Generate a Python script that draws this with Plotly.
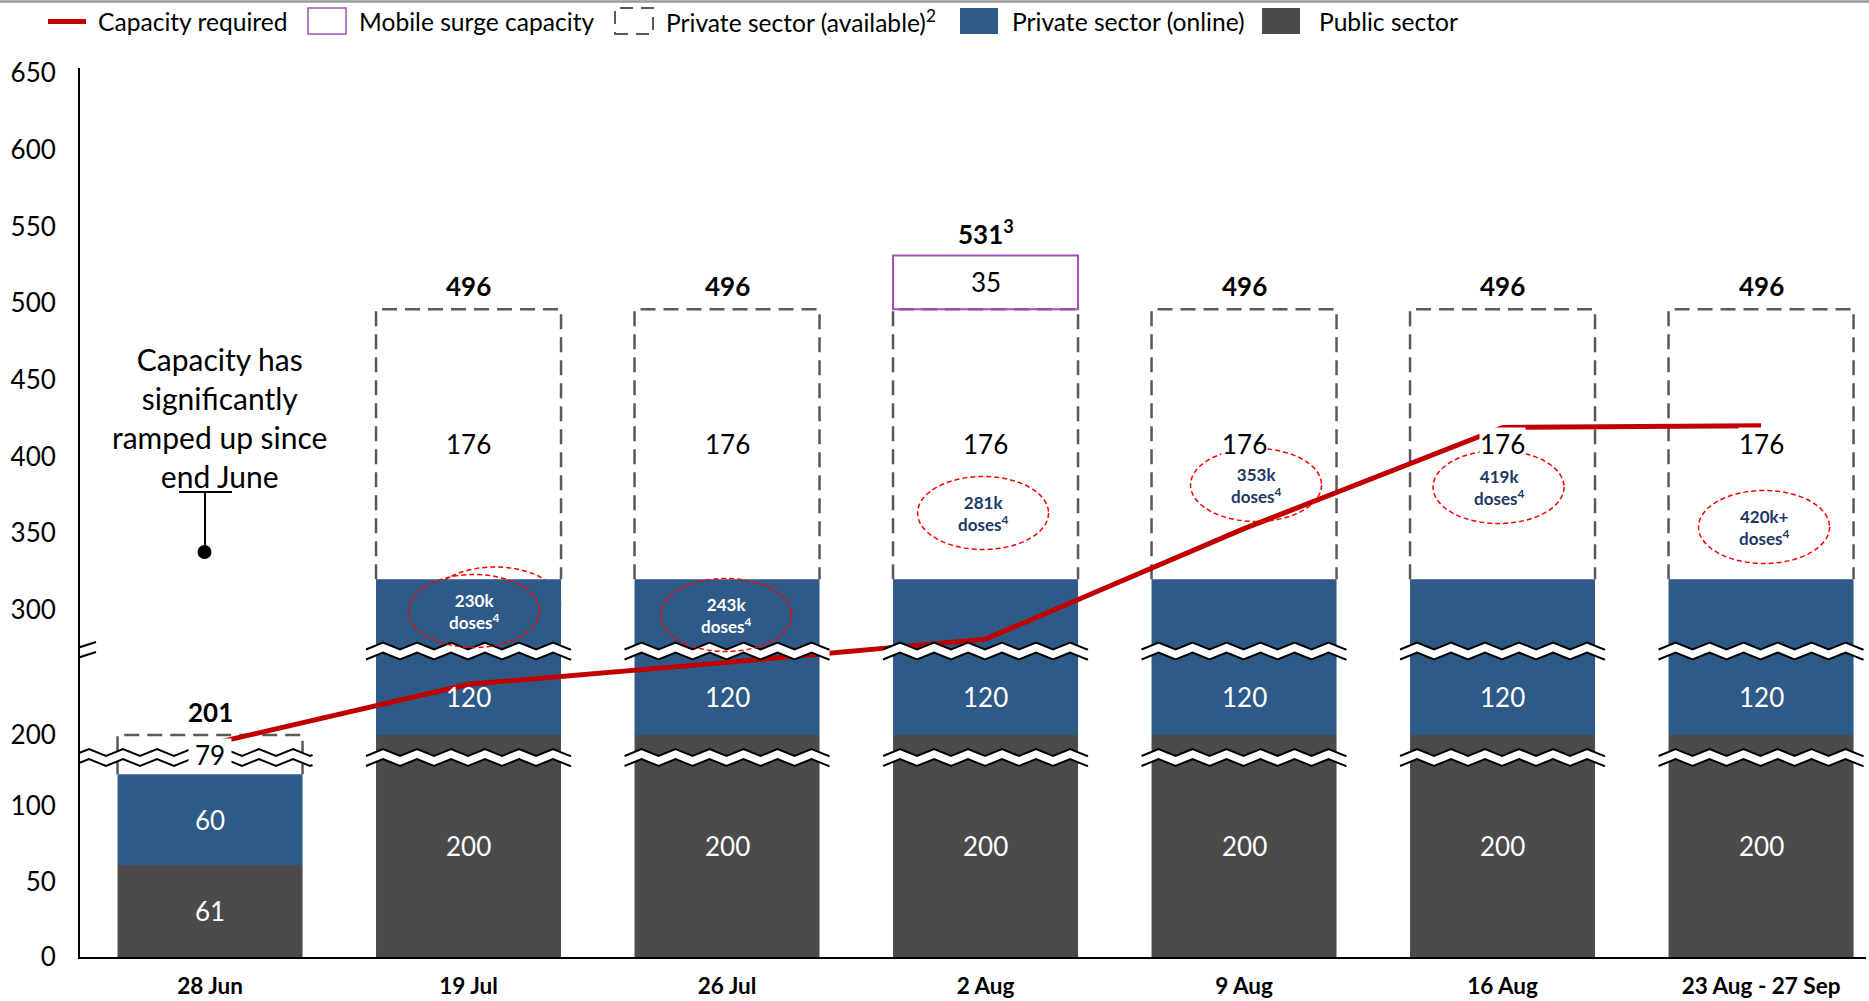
import numpy as np
import plotly.graph_objects as go

# ---------------- data ----------------
categories = ["28 Jun", "19 Jul", "26 Jul", "2 Aug", "9 Aug", "16 Aug", "23 Aug - 27 Sep"]
public_sector = [61, 200, 200, 200, 200, 200, 200]
private_online = [60, 120, 120, 120, 120, 120, 120]
private_available = [79, 176, 176, 176, 176, 176, 176]
mobile_surge = [0, 0, 0, 35, 0, 0, 0]
total_labels = ["201", "496", "496", "531<sup>3</sup>", "496", "496", "496"]
capacity_required = [175, 230, 243, 281, 353, 419, 420]
dose_labels = ["", "230k", "243k", "281k", "353k", "419k", "420k+"]
y_tick_values = [0, 50, 100, 200, 300, 350, 400, 450, 500, 550, 600, 650]

# ---------------- colours / fonts ----------------
GRAY = "#4B4B4B"
BLUE = "#2E5A87"
RED = "#C00000"
PURPLE = "#A44FB5"
DASH_GRAY = "#595959"
NAVY = "#203864"
FONT = "Lato"

# ---------------- geometry ----------------
W, H = 1869, 1001
ML, MR, MT, MB = 80, 3, 68, 44
PW, PH = W - ML - MR, H - MT - MB
X_RANGE = (-0.503, 6.406)
UNIT = PW / (X_RANGE[1] - X_RANGE[0])
BAR_PX = 185
BW = BAR_PX / UNIT


def xd(px):
    return X_RANGE[0] + (px - ML) / UNIT


def yd(py):
    return (H - MB) - py


def xp(px):
    return (px - ML) / PW


def yp(py):
    return (H - MB - py) / PH


def bx(i):
    return ML + (i - X_RANGE[0]) * UNIT


# broken-axis scale (value -> display units)
SCALE_V = [0, 130, 200, 245, 270, 650]
SCALE_D = [0, 196.3, 222, 298, 301, 884]


def m(v):
    return float(np.interp(v, SCALE_V, SCALE_D))


idx = list(range(len(categories)))
stack1 = [a + b for a, b in zip(public_sector, private_online)]
stack2 = [a + b for a, b in zip(stack1, private_available)]
stack3 = [a + b for a, b in zip(stack2, mobile_surge)]

fig = go.Figure()

fig.add_bar(x=idx, y=[m(v) for v in public_sector], base=0, width=BW,
            marker=dict(color=GRAY, line=dict(width=0)), hoverinfo="skip")
fig.add_bar(x=idx, y=[m(t) - m(b) for b, t in zip(public_sector, stack1)],
            base=[m(b) for b in public_sector], width=BW,
            marker=dict(color=BLUE, line=dict(width=0)), hoverinfo="skip")
fig.add_scatter(x=idx, y=[m(v) for v in capacity_required], mode="lines",
                line=dict(color=RED, width=5), hoverinfo="skip")

shapes = []
ann = []

# dashed "available" boxes (open at the bottom) and mobile surge box
for i in idx:
    xl, xr = i - BW / 2, i + BW / 2
    y0, y1 = m(stack1[i]), m(stack2[i])
    shapes.append(dict(type="path", xref="x", yref="y",
                       path=f"M{xl},{y0} L{xl},{y1} L{xr},{y1} L{xr},{y0}", layer="below",
                       line=dict(color=DASH_GRAY, width=2.5, dash="15px,8px")))
    if mobile_surge[i] > 0:
        shapes.append(dict(type="rect", xref="x", yref="y", x0=xl, x1=xr,
                           y0=m(stack2[i]), y1=m(stack3[i]), layer="below",
                           line=dict(color=PURPLE, width=2)))

# hidden duplicate ellipse behind the 19 Jul bar
shapes.append(dict(type="circle", xref="x", yref="y",
                   x0=xd(bx(1) + 26.5 - 65.5), x1=xd(bx(1) + 26.5 + 65.5),
                   y0=yd(603.5 + 36.5), y1=yd(603.5 - 36.5), layer="below",
                   line=dict(color="#FF0000", width=1.5, dash="5px,3px")))


# zigzag break bands
def zig_pts(x0p, x1p, ycp, amp=3.5, period=34):
    xs = list(np.arange(x0p, x1p, period / 2)) + [x1p]
    pts = []
    for x in xs:
        ph = ((x - x0p) / period) % 1
        pts.append((x, ycp + amp * (4 * abs(ph - 0.5) - 1)))
    return pts


def path_of(pts, close=False):
    s = "M" + " L".join(f"{xd(x):.5f},{yd(y):.2f}" for x, y in pts)
    return s + (" Z" if close else "")


def add_band(x0p, x1p, ycp, gap=10):
    top = zig_pts(x0p, x1p, ycp - gap / 2)
    bot = zig_pts(x0p, x1p, ycp + gap / 2)
    shapes.append(dict(type="path", xref="x", yref="y", path=path_of(top + bot[::-1], True),
                       fillcolor="white", line=dict(width=0), layer="above"))
    for p in (top, bot):
        shapes.append(dict(type="path", xref="x", yref="y", path=path_of(p),
                           line=dict(color="black", width=2), layer="above"))


BAND_UPPER, BAND_LOWER = 651, 757.5
add_band(72, bx(0) + BAR_PX / 2 + 10, BAND_LOWER)
for i in idx[1:]:
    add_band(bx(i) - BAR_PX / 2 - 10, bx(i) + BAR_PX / 2 + 10, BAND_LOWER)
    add_band(bx(i) - BAR_PX / 2 - 10, bx(i) + BAR_PX / 2 + 10, BAND_UPPER)

# axis slash break
para = [(65, 652), (96, 642), (96, 652), (65, 662)]
shapes.append(dict(type="path", xref="x", yref="y", path=path_of(para, True),
                   fillcolor="white", line=dict(width=0), layer="above"))
for a, b in ((para[0], para[1]), (para[3], para[2])):
    shapes.append(dict(type="line", xref="x", yref="y", x0=xd(a[0]), y0=yd(a[1]),
                       x1=xd(b[0]), y1=yd(b[1]), line=dict(color="black", width=2),
                       layer="above"))

# dose ellipses
DOSE_POS = [None, (5.5, 611), (-1, 615), (-2.5, 513), (12, 485), (-4, 487), (3, 527)]
for i in idx:
    if not dose_labels[i]:
        continue
    dx, cy = DOSE_POS[i]
    cx = bx(i) + dx
    shapes.append(dict(type="circle", xref="x", yref="y", x0=xd(cx - 65.5), x1=xd(cx + 65.5),
                       y0=yd(cy + 36.5), y1=yd(cy - 36.5), layer="above",
                       line=dict(color="#FF0000", width=1.5, dash="5px,3px")))
    col = "white" if i in (1, 2) else NAVY
    ann.append(dict(x=xd(cx), y=yd(cy), xref="x", yref="y", showarrow=False,
                    text=f"<b>{dose_labels[i]}</b><br><b>doses<sup>4</sup></b>",
                    font=dict(family=FONT, size=17, color=col)))

# segment labels
for i in idx:
    ann.append(dict(x=i, y=(0 + m(public_sector[i])) / 2, xref="x", yref="y", showarrow=False,
                    text=str(public_sector[i]), font=dict(family=FONT, size=26, color="white")))
    if i == 0:
        yo = (m(public_sector[i]) + m(stack1[i])) / 2
    else:
        yo = (m(public_sector[i]) + yd(BAND_UPPER + 7)) / 2
    ann.append(dict(x=i, y=yo, xref="x", yref="y", showarrow=False,
                    text=str(private_online[i]), font=dict(family=FONT, size=26, color="white")))
    extra = dict(width=42) if i == 0 else {}
    ann.append(dict(x=i, y=(m(stack1[i]) + m(stack2[i])) / 2, xref="x", yref="y",
                    showarrow=False, text=str(private_available[i]), bgcolor="white",
                    borderpad=0, font=dict(family=FONT, size=26, color="black"), **extra))
    if mobile_surge[i] > 0:
        ann.append(dict(x=i, y=(m(stack2[i]) + m(stack3[i])) / 2, xref="x", yref="y",
                        showarrow=False, text=str(mobile_surge[i]),
                        font=dict(family=FONT, size=26, color="black")))
    ann.append(dict(x=i, y=m(stack3[i]), xref="x", yref="y", showarrow=False, yshift=23,
                    text=f"<b>{total_labels[i]}</b>",
                    font=dict(family=FONT, size=26, color="black")))

# callout
ann.append(dict(x=xd(219), y=yd(417), xref="x", yref="y", showarrow=False,
                text="Capacity has<br>significantly<br>ramped up since<br>end June",
                font=dict(family=FONT, size=30, color="black")))
shapes.append(dict(type="line", xref="x", yref="y", x0=xd(179), x1=xd(232), y0=yd(492),
                   y1=yd(492), line=dict(color="black", width=2), layer="above"))
shapes.append(dict(type="line", xref="x", yref="y", x0=xd(205), x1=xd(205), y0=yd(492),
                   y1=yd(552), line=dict(color="black", width=2), layer="above"))
shapes.append(dict(type="circle", xref="x", yref="y", x0=xd(197.5), x1=xd(211.5),
                   y0=yd(559), y1=yd(545), fillcolor="black", line=dict(width=0),
                   layer="above"))

# legend (manual)
LY0, LY1, LYC = 8, 34, 21.5
shapes.append(dict(type="line", xref="paper", yref="paper", x0=xp(48), x1=xp(86),
                   y0=yp(LYC), y1=yp(LYC), line=dict(color=RED, width=5)))
shapes.append(dict(type="rect", xref="paper", yref="paper", x0=xp(308), x1=xp(346),
                   y0=yp(LY1), y1=yp(LY0), line=dict(color=PURPLE, width=1.5)))
shapes.append(dict(type="rect", xref="paper", yref="paper", x0=xp(615), x1=xp(653),
                   y0=yp(LY1), y1=yp(LY0), line=dict(color=DASH_GRAY, width=2, dash="13px,8px")))
shapes.append(dict(type="rect", xref="paper", yref="paper", x0=xp(960), x1=xp(998),
                   y0=yp(LY1), y1=yp(LY0), fillcolor=BLUE, line=dict(width=0)))
shapes.append(dict(type="rect", xref="paper", yref="paper", x0=xp(1262), x1=xp(1300),
                   y0=yp(LY1), y1=yp(LY0), fillcolor=GRAY, line=dict(width=0)))
for txt, xs in (("Capacity required", 96), ("Mobile surge capacity", 357),
                ("Private sector (available)<sup>2</sup>", 664),
                ("Private sector (online)", 1010), ("Public sector", 1317)):
    ann.append(dict(x=xp(xs), y=yp(LYC), xref="paper", yref="paper", showarrow=False,
                    xanchor="left", yanchor="middle", text=txt,
                    font=dict(family=FONT, size=24.6, color="black")))

# top rule
shapes.append(dict(type="line", xref="paper", yref="paper", x0=xp(0), x1=xp(W),
                   y0=yp(1.5), y1=yp(1.5), line=dict(color="#9A9A9A", width=2.5)))

fig.update_layout(
    width=W, height=H, margin=dict(l=ML, r=MR, t=MT, b=MB, autoexpand=False),
    paper_bgcolor="white", plot_bgcolor="white", barmode="overlay",
    showlegend=False, hovermode=False, shapes=shapes, annotations=ann,
    xaxis=dict(range=list(X_RANGE), tickvals=idx, ticktext=categories, showgrid=False,
               zeroline=False, showline=True, linecolor="black", linewidth=2, ticks="",
               ticklabelstandoff=8,
               tickfont=dict(family=FONT, size=22.5, color="black", weight="bold"),
               fixedrange=True),
    yaxis=dict(range=[0, PH], tickvals=[m(v) for v in y_tick_values],
               ticktext=[str(v) for v in y_tick_values], showgrid=False, zeroline=False,
               showline=True, linecolor="black", linewidth=2, ticks="",
               ticklabelstandoff=17, tickfont=dict(family=FONT, size=26, color="black"),
               fixedrange=True),
)

fig.write_html("out.html", config={"displayModeBar": False},
               post_script="document.body.style.margin='0';document.body.style.overflow='hidden';")
